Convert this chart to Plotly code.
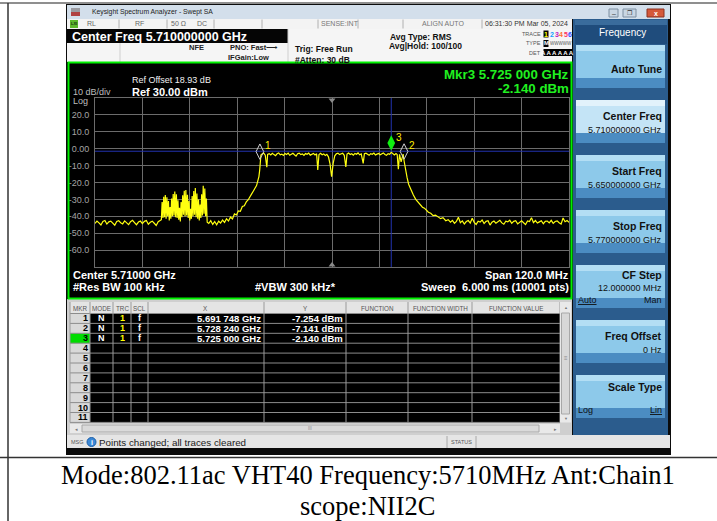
import plotly.graph_objects as go

W, H = 717, 521
SANS = "Liberation Sans, Arial, sans-serif"
SERIF = "Liberation Serif, Times New Roman, serif"

# ------------------------------------------------------------------ data
start_mhz, stop_mhz, center_mhz = 5650.0, 5770.0, 5710.0
ref_level_dbm, bottom_dbm = 30.0, -70.0
y_tick_vals = [20, 10, 0, -10, -20, -30, -40, -50, -60]
y_tick_text = ["20.0", "10.0", "0.00", "-10.0", "-20.0", "-30.0", "-40.0", "-50.0", "-60.0"]
display_line_dbm = -1.5

# trace 1 (frequency MHz, level dBm)
noise_left = [(5650.0,-44.2),(5650.5,-42.8),(5651.0,-43.9),(5651.5,-45.1),(5652.0,-43.0),(5652.5,-42.5),
              (5653.0,-44.6),(5653.5,-43.3),(5654.0,-42.9),(5654.5,-44.0),(5655.0,-45.3),(5655.5,-43.1),
              (5656.0,-42.6),(5656.5,-43.8),(5657.0,-44.5),(5657.5,-42.7),(5658.0,-43.6),(5658.5,-44.9),
              (5659.0,-43.2),(5659.5,-42.4),(5660.0,-43.7),(5660.5,-45.0),(5661.0,-43.4),(5661.5,-42.8),
              (5662.0,-44.3),(5662.5,-43.0),(5663.0,-42.5),(5663.5,-44.7),(5664.0,-43.5),(5664.5,-42.9),
              (5665.0,-44.1),(5665.5,-45.4),(5666.0,-43.2),(5666.5,-42.6)]
bursts = [(5666.8,-42.0),(5667.0,-31.5),(5667.2,-41.0),(5667.4,-28.5),(5667.6,-40.5),(5667.8,-27.4),
          (5668.0,-41.5),(5668.2,-28.8),(5668.4,-40.0),(5668.6,-31.0),(5668.8,-42.5),
          (5669.0,-34.5),(5669.2,-41.5),(5669.4,-29.5),(5669.6,-40.0),(5669.8,-26.8),(5670.0,-39.5),
          (5670.2,-25.4),(5670.4,-40.5),(5670.6,-27.0),(5670.8,-41.0),(5671.0,-30.5),(5671.2,-42.0),
          (5671.4,-35.0),(5671.6,-43.0),(5671.8,-31.5),(5672.0,-40.5),(5672.2,-27.5),(5672.4,-39.0),
          (5672.6,-24.9),(5672.8,-40.0),(5673.0,-24.4),(5673.2,-39.5),(5673.4,-27.2),(5673.6,-41.0),
          (5673.8,-31.0),(5674.0,-42.5),(5674.2,-35.5),(5674.4,-41.5),(5674.6,-28.0),(5674.8,-40.0),
          (5675.0,-25.0),(5675.2,-39.0),(5675.4,-23.3),(5675.6,-40.5),(5675.8,-26.5),(5676.0,-41.5),
          (5676.2,-30.0),(5676.4,-42.5),(5676.6,-33.0),(5676.8,-41.0),(5677.0,-27.0),(5677.2,-39.5),
          (5677.4,-22.0),(5677.6,-38.5),(5677.8,-23.5),(5678.0,-40.0),(5678.2,-29.5),(5678.4,-43.5)]
skirt_left = [(5678.8,-44.2),(5679.3,-42.6),(5679.8,-44.8),(5680.3,-43.1),(5680.8,-45.0),(5681.3,-42.9),
              (5681.8,-44.0),(5682.3,-42.2),(5682.8,-43.6),(5683.3,-41.5),(5683.8,-42.8),(5684.3,-40.4),
              (5684.8,-41.6),(5685.3,-38.6),(5685.8,-39.2),(5686.3,-36.8),(5686.8,-37.0),(5687.3,-34.2),
              (5687.8,-33.8),(5688.3,-31.5),(5688.8,-30.2),(5689.3,-28.5),(5689.7,-26.6),(5690.1,-25.0),
              (5690.5,-23.6),(5690.9,-21.8),(5691.2,-19.2),(5691.5,-16.5),(5691.7,-12.5),(5691.8,-7.3),
              (5692.0,-3.8)]
inband = [(5692.3,-3.1),(5692.7,-2.6),(5693.1,-3.8),(5693.5,-11.0),(5693.7,-3.4),(5694.1,-2.9),
          (5694.5,-3.7),(5694.9,-2.7),(5695.3,-3.5),(5695.7,-4.1),(5696.1,-3.0),(5696.5,-2.5),
          (5696.9,-3.6),(5697.3,-3.2),(5697.7,-4.0),(5698.1,-2.8),(5698.5,-3.4),(5698.9,-2.6),
          (5699.3,-3.9),(5699.7,-3.1),(5700.1,-2.7),(5700.5,-3.6),(5700.9,-4.4),(5701.3,-3.0),
          (5701.7,-2.6),(5702.1,-3.5),(5702.5,-3.1),(5702.9,-4.0),(5703.3,-2.9),(5703.7,-3.3),
          (5704.1,-2.6),(5704.5,-3.8),(5704.9,-3.2),(5705.3,-2.8),(5705.7,-3.7),(5706.1,-3.0),
          (5706.4,-12.6),(5706.7,-3.4),(5707.1,-2.7),(5707.5,-3.6),(5707.9,-3.1),(5708.3,-4.0),
          (5708.7,-3.3),(5709.1,-4.8),(5709.5,-9.0),(5709.9,-16.6),(5710.3,-8.5),(5710.7,-4.2),
          (5711.1,-3.0),(5711.5,-2.6),(5711.9,-3.5),(5712.3,-3.0),(5712.7,-2.7),(5713.1,-3.9),
          (5713.5,-10.8),(5713.8,-3.2),(5714.2,-2.6),(5714.6,-3.4),(5715.0,-3.0),(5715.4,-3.8),
          (5715.8,-2.8),(5716.2,-3.3),(5716.6,-2.5),(5717.0,-3.6),(5717.4,-3.1),(5717.9,-8.7),
          (5718.2,-3.0),(5718.6,-2.7),(5719.0,-3.5),(5719.4,-3.9),(5719.8,-2.9),(5720.2,-3.3),
          (5720.6,-2.6),(5721.0,-3.7),(5721.4,-3.2),(5721.8,-2.8),(5722.2,-3.6),(5722.6,-3.0),
          (5723.0,-2.5),(5723.4,-3.4),(5723.8,-3.9),(5724.2,-2.9),(5724.6,-3.3),(5725.0,-2.14),
          (5725.4,-3.1),(5725.8,-3.7),(5726.2,-2.9),(5726.5,-3.4),(5726.8,-12.2),(5727.1,-3.3),
          (5727.5,-7.8),(5727.8,-3.6),(5728.0,-3.2)]
skirt_right = [(5728.24,-7.14),(5728.6,-12.5),(5729.0,-17.0),(5729.4,-21.0),(5729.9,-24.0),(5730.6,-27.4),
               (5731.2,-30.0),(5731.9,-31.8),(5732.3,-32.5),(5732.9,-34.6),(5733.4,-35.2),(5734.0,-36.8),
               (5734.4,-37.6),(5735.0,-38.2),(5735.6,-39.6),(5736.2,-39.3),(5736.9,-40.5),(5737.5,-41.4),
               (5738.1,-40.8),(5738.8,-42.6),(5739.4,-42.0),(5740.0,-43.5)]
noise_right = [(5740.5,-42.4),(5741.0,-44.1),(5741.5,-43.0),(5742.0,-40.6),(5742.5,-43.8),(5743.0,-42.7),
               (5743.5,-44.6),(5744.0,-43.1),(5744.5,-42.5),(5745.0,-44.0),(5745.5,-41.2),(5746.0,-43.6),
               (5746.5,-44.8),(5747.0,-42.9),(5747.5,-43.4),(5748.0,-42.2),(5748.5,-44.3),(5749.0,-43.0),
               (5749.5,-42.6),(5750.0,-45.2),(5750.5,-43.5),(5751.0,-42.8),(5751.5,-44.1),(5752.0,-43.2),
               (5752.5,-42.4),(5753.0,-43.9),(5753.5,-44.7),(5754.0,-42.9),(5754.5,-43.3),(5755.0,-42.3),
               (5755.5,-44.2),(5756.0,-43.0),(5756.5,-42.6),(5757.0,-44.5),(5757.5,-43.4),(5758.0,-42.7),
               (5758.5,-43.8),(5759.0,-44.9),(5759.5,-42.8),(5760.0,-43.1),(5760.5,-40.8),(5761.0,-43.7),
               (5761.5,-42.5),(5762.0,-44.0),(5762.5,-43.3),(5763.0,-42.6),(5763.5,-44.4),(5764.0,-43.0),
               (5764.5,-42.8),(5765.0,-43.9),(5765.5,-42.4),(5766.0,-44.2),(5766.5,-43.1),(5767.0,-42.7),
               (5767.5,-43.8),(5768.0,-44.6),(5768.5,-41.0),(5769.0,-43.2),(5769.5,-42.5),(5770.0,-43.6)]

marker_ids = ["1", "2", "3"]
marker_freq_ghz = [5.691748, 5.728240, 5.725000]
marker_dbm = [-7.254, -7.141, -2.140]
active_marker = 2  # index of marker 3

softkeys = [("Auto Tune", None), ("Center Freq", "5.710000000 GHz"), ("Start Freq", "5.650000000 GHz"),
            ("Stop Freq", "5.770000000 GHz"), ("CF Step", "12.000000 MHz"), ("Freq Offset", "0 Hz"),
            ("Scale Type", None)]
table_headers = ["MKR", "MODE", "TRC", "SCL", "X", "Y", "FUNCTION", "FUNCTION WIDTH", "FUNCTION VALUE"]
caption_lines = ["Mode:802.11ac VHT40 Frequency:5710MHz Ant:Chain1", "scope:NII2C"]

# ------------------------------------------------------------------ helpers
shapes, ann = [], []

def X(x): return x / W
def Y(y): return 1 - y / H

def rect(x0, y0, x1, y1, fill, lc=None, lw=0, layer="below"):
    shapes.append(dict(type="rect", xref="paper", yref="paper", x0=X(x0), x1=X(x1), y0=Y(y1), y1=Y(y0),
                       fillcolor=fill, line=dict(color=lc or "rgba(0,0,0,0)", width=lw), layer=layer))

def seg(x0, y0, x1, y1, color, w=1, layer="below"):
    shapes.append(dict(type="line", xref="paper", yref="paper", x0=X(x0), x1=X(x1), y0=Y(y0), y1=Y(y1),
                       line=dict(color=color, width=w), layer=layer))

def txt(x, y, s, size=9, color="#000", anchor="left", family=SANS, bg=None, yanchor="middle"):
    d = dict(xref="paper", yref="paper", x=X(x), y=Y(y), text=s, showarrow=False, xanchor=anchor,
             yanchor=yanchor, font=dict(size=size, color=color, family=family), borderpad=0)
    if bg:
        d["bgcolor"] = bg
    ann.append(d)

def fmt_ghz(g):
    s = f"{g:.6f}"
    return s[:5] + " " + s[5:] + " GHz"

# ------------------------------------------------------------------ document table lines
seg(0, 3, 717, 3, "#6a6a6a", 1.5)
seg(8, 3, 8, 521, "#333", 1.5)
seg(0, 457.5, 717, 457.5, "#333", 1.5)

# ------------------------------------------------------------------ instrument frame
rect(66, 4, 671, 455, "#0b0b0b")
rect(67, 5, 670, 19, "#d3dfeb")
rect(71, 8, 80, 16, "#9a9aa0")
rect(71, 12, 80, 16, "#b04040")
txt(91, 12, "Keysight Spectrum Analyzer - Swept SA", 6.8, "#222")
rect(609, 9, 618, 17, "#c9d6e3", "#7d8ea0", 1)
rect(623, 9, 636, 17, "#c9d6e3", "#7d8ea0", 1)
rect(647, 9, 664, 17, "#d4583a", "#8a3020", 1)
txt(613.5, 13, "–", 7, "#333", "center")
txt(629.5, 13, "❐", 6, "#333", "center")
txt(655.5, 13, "<b>x</b>", 7, "white", "center")

# status row
rect(67, 19, 572, 29, "#f3f3f3")
rect(70, 20, 78, 28, "#5cb82c")
txt(74, 24, "<b>LXI</b>", 4, "#103010", "center")
for sx in [119, 167, 214, 262, 318, 358, 403, 482]:
    seg(sx, 19.5, sx, 28.5, "#b0b0b0", 1)
txt(86, 24, "RL", 7, "#666")
txt(134, 24, "RF", 7, "#666")
txt(170, 24, "50 Ω", 7, "#666")
txt(196, 24, "DC", 7, "#666")
txt(340, 24, "SENSE:INT", 7, "#777", "center")
txt(443, 24, "ALIGN AUTO", 7, "#777", "center")
txt(484, 24, "06:31:30 PM Mar 05, 2024", 7, "#333")

# header area
rect(67, 29, 572, 62, "#f5f5f5")
rect(67, 29, 288, 43, "#050505")
txt(71, 36.5, "<b>Center Freq 5.710000000 GHz</b>", 12.5, "white")
seg(120, 43, 120, 62, "#cfcfcf")
seg(288, 29, 288, 62, "#cfcfcf")
txt(188, 47.5, "<b>NFE</b>", 7.5, "#222")
txt(229, 47.5, "<b>PNO: Fast</b>", 7.5, "#222")
txt(265, 47.5, "⟶", 8, "#222")
txt(227, 57.5, "<b>IFGain:Low</b>", 7.5, "#222")
txt(294, 49, "<b>Trig: Free Run</b>", 8.5, "#111")
txt(294, 60, "<b>#Atten: 30 dB</b>", 8.5, "#111")
txt(389, 36.5, "<b>Avg Type: RMS</b>", 8.5, "#111")
txt(388, 46, "<b>Avg|Hold: 100/100</b>", 8.5, "#111")
txt(542, 34, "TRACE", 5.5, "#555", "right")
rect(543.5, 30.5, 548.5, 37.5, "#000")
txt(546, 34, "<b>1</b>", 7, "#ffff00", "center")
for i, c in enumerate(["#12a0ff", "#c020c0", "#ff7030", "#ff3060", "#3050ff"]):
    txt(552 + 4.5 * i, 34, "<b>%d</b>" % (i + 2), 7, c, "center")
txt(542, 43.5, "TYPE", 5.5, "#555", "right")
rect(543.5, 40, 548.5, 47, "#000")
txt(546, 43.5, "<b>M</b>", 6, "white", "center")
txt(549, 43.5, "WWWWW", 4.5, "#555")
txt(542, 52.5, "DET", 5.5, "#555", "right")
rect(543.5, 49, 572, 56, "#000")
txt(557.5, 52.5, "<b>A A A A A A</b>", 6, "white", "center")

# plot panel
rect(67, 62, 572, 299, "#000000")
rect(68.5, 62.5, 571.5, 298.5, "rgba(0,0,0,0)", "#00f000", 2, layer="above")
txt(131, 80, "Ref Offset 18.93 dB", 9, "#f0f0f0")
txt(131, 91.5, "<b>Ref 30.00 dBm</b>", 11, "#ffffff")
txt(72, 92.5, "10 dB/div", 9, "#bdbdbd")
txt(72, 101, "Log", 9, "#bdbdbd")
m = active_marker
txt(570, 74.5, "<b>Mkr%s %s</b>" % (marker_ids[m], fmt_ghz(marker_freq_ghz[m])), 13.3, "#20f020", "right")
txt(570, 88, "<b>%.3f dBm</b>" % marker_dbm[m], 13.3, "#20f020", "right")
txt(72, 275, "<b>Center %.5f GHz</b>" % (center_mhz / 1000), 11, "white")
txt(72, 287, "<b>#Res BW 100 kHz</b>", 11, "white")
txt(254, 287, "<b>#VBW 300 kHz*</b>", 11, "white")
txt(570, 275, "<b>Span %.1f MHz</b>" % (stop_mhz - start_mhz), 11, "white", "right")
txt(570, 287, "<b>Sweep&nbsp; 6.000 ms (10001 pts)</b>", 11, "white", "right")

# marker table
rect(67, 299, 572, 435, "#cfcfcf")
rect(70, 302, 560, 313.5, "#e4e4e4")
row_h = 9.9
row0 = 313.5
rect(90, row0, 560, row0 + 11 * row_h, "#000")
rect(70, row0, 90, row0 + 11 * row_h, "#d9d9d9")
rect(70, row0 + m * row_h, 90, row0 + (m + 1) * row_h, "#00dc00")
for i in range(12):
    yy = row0 + i * row_h
    seg(70, yy, 560, yy, "#8c8c8c", 1)
col_x = [70, 90, 113, 131, 148, 264, 346, 408, 472, 560]
for cx in col_x:
    seg(cx, 302, cx, row0 + 11 * row_h, "#9a9a9a", 1)
for i, hname in enumerate(table_headers):
    txt((col_x[i] + col_x[i + 1]) / 2, 308, hname, 6.3, "#555", "center")
for r in range(11):
    txt(89, row0 + (r + 0.5) * row_h, "<b>%d</b>" % (r + 1), 9, "#000", "right")
for r in range(len(marker_ids)):
    yy = row0 + (r + 0.5) * row_h
    txt(101.5, yy, "<b>N</b>", 9, "white", "center")
    txt(122, yy, "<b>1</b>", 9, "#ffff00", "center")
    txt(139.5, yy, "<b>f</b>", 9, "white", "center")
    txt(262, yy, "<b>%s</b>" % fmt_ghz(marker_freq_ghz[r]), 9.5, "white", "right")
    txt(344, yy, "<b>%.3f dBm</b>" % marker_dbm[r], 9.5, "white", "right")
rect(560, 302, 571, row0 + 11 * row_h, "#e9e9e9")
rect(561.5, 313, 569.5, 414, "#d8d8d8", "#a8a8a8", 1)
txt(565.5, 307.5, "▲", 4, "#777", "center")
txt(565.5, 358, "≡", 6, "#888", "center")
txt(565.5, 418.5, "▼", 4, "#777", "center")
rect(70, 424, 560, 433, "#e9e9e9")
rect(82, 425, 539, 432, "#dadada", "#a8a8a8", 1)
txt(76, 428.5, "◂", 5, "#777", "center")
txt(555, 428.5, "▸", 5, "#777", "center")
txt(310, 428.5, "III", 4.5, "#888", "center")

# message bar
rect(67, 435, 670, 448, "#e5e5e5")
txt(70, 442, "MSG", 5.5, "#555")
shapes.append(dict(type="circle", xref="paper", yref="paper", x0=X(87), x1=X(96), y0=Y(446.5), y1=Y(437.5),
                   fillcolor="#3b88d6", line=dict(color="#1c5fa8", width=1), layer="below"))
txt(91.5, 442, "<b>i</b>", 7, "white", "center")
txt(98, 442, "Points changed; all traces cleared", 9.8, "#1a1a1a")
seg(447, 436, 447, 448, "#a8a8a8")
seg(476, 436, 476, 448, "#a8a8a8")
txt(450, 442, "STATUS", 5.5, "#555")

# right soft-key panel
rect(573, 19, 668, 435, "#2b5c8d")
rect(575, 20, 667, 44, "#1f4c7c")
rect(575, 20, 667, 25, "#3a6c9c")
txt(622, 33, "Frequency", 10, "white", "center")
for k, (title, sub) in enumerate(softkeys):
    top = 45 + 55 * k
    light = "#c4e4f6" if k == 1 else "#8dc9ea"
    rect(576, top, 665, top + 33, light)
    rect(576, top, 665, top + 6, "#e2f2fb" if k == 1 else "#b3def4")
    rect(576, top + 33, 665, top + 43, "#4b8cc2")
    if title == "Auto Tune":
        txt(663, top + 24, "<b>%s</b>" % title, 10.5, "#111", "right")
    elif title == "CF Step":
        txt(663, top + 10, "<b>%s</b>" % title, 10.5, "#111", "right")
        txt(663, top + 23, sub, 9, "#111", "right")
        txt(577, top + 35, "<u>Auto</u>", 9, "#111")
        txt(663, top + 35, "Man", 9, "#111", "right")
    elif title == "Scale Type":
        txt(663, top + 12, "<b>%s</b>" % title, 10.5, "#111", "right")
        txt(577, top + 35, "Log", 9, "#111")
        txt(663, top + 35, "<u>Lin</u>", 9, "#111", "right")
    else:
        txt(663, top + 16, "<b>%s</b>" % title, 10.5, "#111", "right")
        txt(663, top + 30, sub, 9, "#111", "right")

# caption
txt(367.5, 475, caption_lines[0], 26.5, "#000", "center", SERIF)
txt(367.5, 506, caption_lines[1], 26.5, "#000", "center", SERIF)

# ------------------------------------------------------------------ spectrum plot
segments = [noise_left, bursts, skirt_left, inband, skirt_right, noise_right]
freq = [p[0] for s in segments for p in s]
level = [p[1] for s in segments for p in s]

fig = go.Figure()
shapes.append(dict(type="line", xref="x", yref="y", x0=start_mhz, x1=stop_mhz, y0=display_line_dbm,
                   y1=display_line_dbm, line=dict(color="#2233b0", width=1), layer="between"))
shapes.append(dict(type="line", xref="x", yref="y", x0=marker_freq_ghz[m] * 1000, x1=marker_freq_ghz[m] * 1000,
                   y0=bottom_dbm, y1=ref_level_dbm, line=dict(color="#2233b0", width=1), layer="between"))

fig.add_trace(go.Scatter(x=freq, y=level, mode="lines", line=dict(color="#ffff10", width=1.2),
                         hoverinfo="skip", showlegend=False))
fig.add_trace(go.Scatter(x=[center_mhz, center_mhz], y=[ref_level_dbm - 1.2, bottom_dbm + 1.2], mode="markers",
                         marker=dict(symbol=["triangle-down", "triangle-up"], size=6, color="#8a8a8a"),
                         cliponaxis=False, hoverinfo="skip", showlegend=False))

mk_offset = 5.5  # diamond drawn just above the marker point
mk_x = [f * 1000 for f in marker_freq_ghz]
mk_y = [v + mk_offset for v in marker_dbm]
open_ids = [i for i in range(len(marker_ids)) if i != m]
fig.add_trace(go.Scatter(x=[mk_x[i] for i in open_ids], y=[mk_y[i] for i in open_ids], mode="markers",
                         marker=dict(symbol="diamond-tall-open", size=11, color="#d0d0d0",
                                     line=dict(width=1, color="#d0d0d0")),
                         hoverinfo="skip", showlegend=False))
fig.add_trace(go.Scatter(x=[mk_x[m]], y=[mk_y[m]], mode="markers",
                         marker=dict(symbol="diamond-tall", size=11, color="#10f010"),
                         hoverinfo="skip", showlegend=False))
for i, mid in enumerate(marker_ids):
    ann.append(dict(xref="x", yref="y", x=mk_x[i], y=mk_y[i], text=mid, showarrow=False, xanchor="left",
                    yanchor="middle", xshift=3, yshift=6, font=dict(size=10, color="#ffee00", family=SANS)))

grid = "#6c6c6c"
fig.update_layout(
    width=W, height=H, autosize=False, margin=dict(l=0, r=0, t=0, b=0),
    paper_bgcolor="white", plot_bgcolor="black", showlegend=False,
    shapes=shapes, annotations=ann,
    xaxis=dict(range=[start_mhz, stop_mhz], domain=[95 / W, 569 / W], tick0=start_mhz, dtick=12,
               showgrid=True, gridcolor=grid, gridwidth=1, showticklabels=False, ticks="",
               zeroline=False, showline=True, linecolor=grid, mirror=True, fixedrange=True),
    yaxis=dict(range=[bottom_dbm, ref_level_dbm], domain=[1 - 267 / H, 1 - 98 / H],
               tickvals=y_tick_vals, ticktext=y_tick_text, showgrid=True, gridcolor=grid, gridwidth=1,
               ticks="", tickfont=dict(size=9, color="#a4a4a4", family=SANS), ticklabelstandoff=3,
               zeroline=False, showline=True, linecolor=grid, mirror=True, fixedrange=True,
               automargin=False),
)

fig.write_html("out.html", include_plotlyjs=True, config={"displayModeBar": False, "staticPlot": True},
               post_script="document.body.style.margin='0';document.body.style.overflow='hidden';")
